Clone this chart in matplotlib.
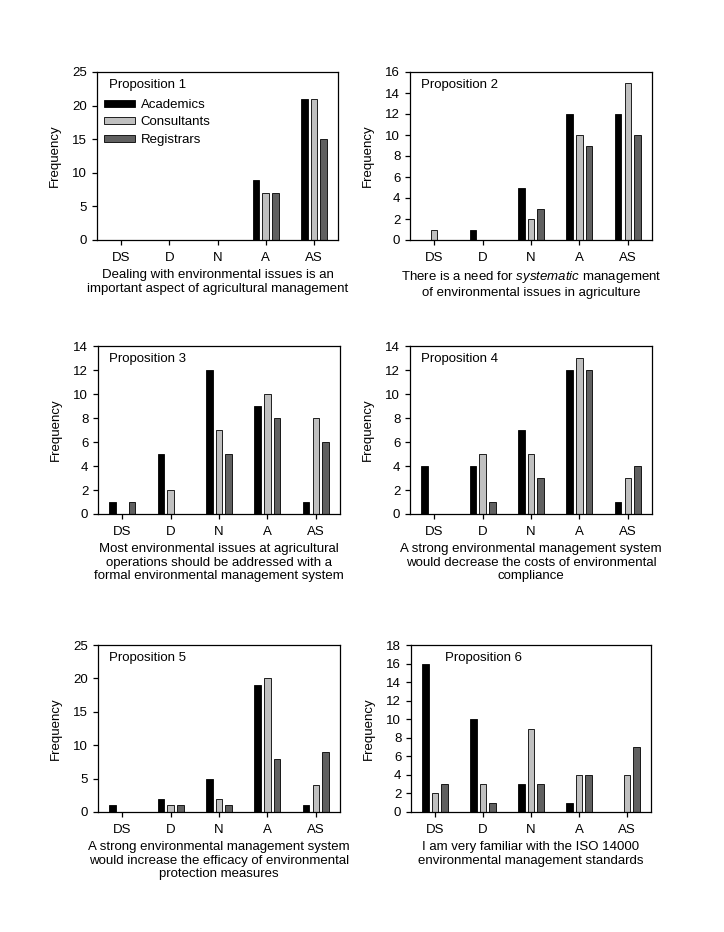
import numpy as np
import matplotlib
matplotlib.use("Agg")
import matplotlib.pyplot as plt
from matplotlib.ticker import MultipleLocator

plt.rcParams.update({"font.family": "Liberation Sans", "font.size": 9.5,
                     "mathtext.fontset": "custom",
                     "mathtext.it": "Liberation Sans:italic",
                     "mathtext.rm": "Liberation Sans",
                     "axes.linewidth": 0.9,
                     "xtick.direction": "out", "ytick.direction": "out",
                     "xtick.major.size": 3.5, "ytick.major.size": 3.5,
                     "xtick.major.width": 0.9, "ytick.major.width": 0.9})

CATS = ["DS", "D", "N", "A", "AS"]
GROUPS = ["Academics", "Consultants", "Registrars"]
COLS = ["#000000", "#c0c0c0", "#606060"]

p1_acad = [0, 0, 0, 9, 21]
p1_cons = [0, 0, 0, 7, 21]
p1_regi = [0, 0, 0, 7, 15]

p2_acad = [0, 1, 5, 12, 12]
p2_cons = [1, 0, 2, 10, 15]
p2_regi = [0, 0, 3, 9, 10]

p3_acad = [1, 5, 12, 9, 1]
p3_cons = [0, 2, 7, 10, 8]
p3_regi = [1, 0, 5, 8, 6]

p4_acad = [4, 4, 7, 12, 1]
p4_cons = [0, 5, 5, 13, 3]
p4_regi = [0, 1, 3, 12, 4]

p5_acad = [1, 2, 5, 19, 1]
p5_cons = [0, 1, 2, 20, 4]
p5_regi = [0, 1, 1, 8, 9]

p6_acad = [16, 10, 3, 1, 0]
p6_cons = [2, 3, 9, 4, 4]
p6_regi = [3, 1, 3, 4, 7]

TITLES = ["Proposition 1", "Proposition 2", "Proposition 3",
          "Proposition 4", "Proposition 5", "Proposition 6"]
XLABELS = [
    "Dealing with environmental issues is an\nimportant aspect of agricultural management",
    "There is a need for $\\mathit{systematic}$ management\nof environmental issues in agriculture",
    "Most environmental issues at agricultural\noperations should be addressed with a\nformal environmental management system",
    "A strong environmental management system\nwould decrease the costs of environmental\ncompliance",
    "A strong environmental management system\nwould increase the efficacy of environmental\nprotection measures",
    "I am very familiar with the ISO 14000\nenvironmental management standards",
]
YMAX = [25, 16, 14, 14, 25, 18]
YSTEP = [5, 2, 2, 2, 5, 2]
DATA = [(p1_acad, p1_cons, p1_regi), (p2_acad, p2_cons, p2_regi),
        (p3_acad, p3_cons, p3_regi), (p4_acad, p4_cons, p4_regi),
        (p5_acad, p5_cons, p5_regi), (p6_acad, p6_cons, p6_regi)]

W, H = 724, 932
# axes boxes in pixels: left, right, top, bottom
BOXES = [(97, 338, 72, 240), (410, 652, 72, 240),
         (98, 340, 346, 514), (410, 652, 346, 514),
         (98, 340, 645, 812), (411, 651, 645, 812)]
TITLE_X = [0.05, 0.045, 0.045, 0.045, 0.045, 0.14]

fig = plt.figure(figsize=(W / 100, H / 100), dpi=100)
x = np.arange(len(CATS))
bw = 0.135

for i, (box, data) in enumerate(zip(BOXES, DATA)):
    l, r, t, b = box
    ax = fig.add_axes([l / W, 1 - b / H, (r - l) / W, (b - t) / H])
    for j, (vals, col, name) in enumerate(zip(data, COLS, GROUPS)):
        ax.bar(x + (j - 1) * 0.2, vals, bw, color=col, edgecolor="black",
               linewidth=0.6, label=name)
    ax.set_xlim(-0.5, 4.5)
    ax.set_ylim(0, YMAX[i])
    ax.yaxis.set_major_locator(MultipleLocator(YSTEP[i]))
    ax.set_xticks(x)
    ax.set_xticklabels(CATS)
    ax.tick_params(axis="x", pad=5)
    ax.set_ylabel("Frequency", labelpad=8)
    ax.set_xlabel(XLABELS[i], linespacing=1.15, labelpad=4)
    ax.text(TITLE_X[i], 0.92, TITLES[i], transform=ax.transAxes,
            ha="left", va="center")
    if i == 0:
        ax.legend(loc="upper left", bbox_to_anchor=(0.02, 0.856), frameon=False,
                  handlelength=2.3, handleheight=0.45, handletextpad=0.45,
                  labelspacing=0.42, borderaxespad=0, borderpad=0.2)

fig.savefig("out.png", dpi=100)
